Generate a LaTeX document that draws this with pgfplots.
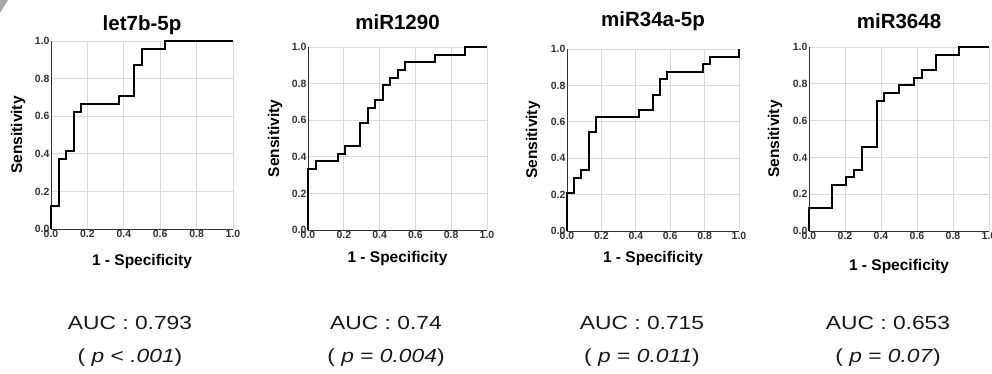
\documentclass[border=0pt]{standalone}
\usepackage{pgfplots}
\pgfplotsset{compat=1.18}
\usepackage{graphicx}
\usepackage{fontspec}
\setmainfont{Liberation Sans}
\definecolor{gridc}{HTML}{D9D9D9}
\definecolor{axc}{HTML}{333333}
\pgfplotsset{
  roc/.style={
    scale only axis, clip=false,
    xmin=0, xmax=1, ymin=0, ymax=1,
    xtick={0,0.2,0.4,0.6,0.8,1}, ytick={0,0.2,0.4,0.6,0.8,1},
    grid=major, grid style={gridc, line width=0.7pt},
    axis x line*=bottom, axis y line*=left,
    axis line style={-, axc, line width=0.7pt},
    tick style={draw=none},
    ticklabel style={font=\bfseries\fontsize{10.5}{10.5}\selectfont, text=axc},
    xticklabel style={yshift=2pt},
    yticklabel style={xshift=2pt},
    /pgf/number format/.cd, fixed, fixed zerofill, precision=1, assume math mode=true,
    /pgfplots/.cd,
    title style={font=\bfseries\fontsize{20.5}{22}\selectfont, anchor=center, at={(0.5,1)}},
    xlabel={1 - Specificity}, ylabel={Sensitivity},
    xlabel style={font=\bfseries\fontsize{15.5}{17}\selectfont, anchor=center, at={(0.5,0)}},
    ylabel style={font=\bfseries\fontsize{15.5}{17}\selectfont, anchor=center, at={(0,0.5)}},
  },
  curve/.style={black, line width=2pt, line join=miter, mark=none},
}
\newcommand{\wide}[1]{\scalebox{1.2}[1]{#1}}
\begin{document}
\begin{tikzpicture}
\useasboundingbox (0pt,0pt) rectangle (992pt,373pt);
\fill[gray!70] (0pt,373pt) -- (8pt,373pt) -- (0pt,360pt) -- cycle;

\begin{axis}[roc, at={(51pt,144pt)}, anchor=south west, width=182pt, height=188pt,
  title={let7b-5p}, title style={yshift=10pt},
  xlabel style={yshift=-32pt}, ylabel style={yshift=33pt}]
\addplot[curve] coordinates {(0,0)(0,0.125)(0.042,0.125)(0.042,0.375)(0.083,0.375)(0.083,0.417)(0.125,0.417)(0.125,0.625)(0.167,0.625)(0.167,0.667)(0.375,0.667)(0.375,0.708)(0.458,0.708)(0.458,0.875)(0.5,0.875)(0.5,0.958)(0.625,0.958)(0.625,1)(1,1)};
\end{axis}

\begin{axis}[roc, at={(308pt,143pt)}, anchor=south west, width=179pt, height=183pt,
  title={miR1290}, title style={yshift=19pt},
  xlabel style={yshift=-28pt}, ylabel style={yshift=33pt}]
\addplot[curve] coordinates {(0,0)(0,0.333)(0.042,0.333)(0.042,0.375)(0.167,0.375)(0.167,0.417)(0.208,0.417)(0.208,0.458)(0.292,0.458)(0.292,0.583)(0.333,0.583)(0.333,0.667)(0.375,0.667)(0.375,0.708)(0.417,0.708)(0.417,0.792)(0.458,0.792)(0.458,0.833)(0.5,0.833)(0.5,0.875)(0.542,0.875)(0.542,0.917)(0.708,0.917)(0.708,0.958)(0.875,0.958)(0.875,1)(1,1)};
\end{axis}

\begin{axis}[roc, at={(567pt,142pt)}, anchor=south west, width=172pt, height=182pt,
  title={miR34a-5p}, title style={yshift=22pt},
  xlabel style={yshift=-27pt}, ylabel style={yshift=34pt}]
\addplot[curve] coordinates {(0,0)(0,0.208)(0.042,0.208)(0.042,0.292)(0.083,0.292)(0.083,0.333)(0.125,0.333)(0.125,0.542)(0.167,0.542)(0.167,0.625)(0.417,0.625)(0.417,0.667)(0.5,0.667)(0.5,0.75)(0.542,0.75)(0.542,0.833)(0.583,0.833)(0.583,0.875)(0.792,0.875)(0.792,0.917)(0.833,0.917)(0.833,0.958)(1,0.958)(1,1)};
\end{axis}

\begin{axis}[roc, at={(809pt,142pt)}, anchor=south west, width=180pt, height=184pt,
  title={miR3648}, title style={yshift=20pt},
  xlabel style={yshift=-35pt}, ylabel style={yshift=34pt}]
\addplot[curve] coordinates {(0,0)(0,0.125)(0.125,0.125)(0.125,0.25)(0.208,0.25)(0.208,0.292)(0.25,0.292)(0.25,0.333)(0.292,0.333)(0.292,0.458)(0.375,0.458)(0.375,0.708)(0.417,0.708)(0.417,0.75)(0.5,0.75)(0.5,0.792)(0.583,0.792)(0.583,0.833)(0.625,0.833)(0.625,0.875)(0.708,0.875)(0.708,0.958)(0.833,0.958)(0.833,1)(1,1)};
\end{axis}

\begin{scope}[every node/.style={font=\fontsize{19}{21}\selectfont, text=black!90}]
\node at (130pt,50pt) {\wide{AUC : 0.793}};
\node at (130pt,15pt) {\wide{( \textit{p} < \textit{.001})}};
\node at (386pt,50pt) {\wide{AUC : 0.74}};
\node at (386pt,15pt) {\wide{( \textit{p} = \textit{0.004})}};
\node at (642pt,50pt) {\wide{AUC : 0.715}};
\node at (642pt,15pt) {\wide{( \textit{p} = \textit{0.011})}};
\node at (888pt,50pt) {\wide{AUC : 0.653}};
\node at (888pt,15pt) {\wide{( \textit{p} = \textit{0.07})}};
\end{scope}
\end{tikzpicture}
\end{document}
